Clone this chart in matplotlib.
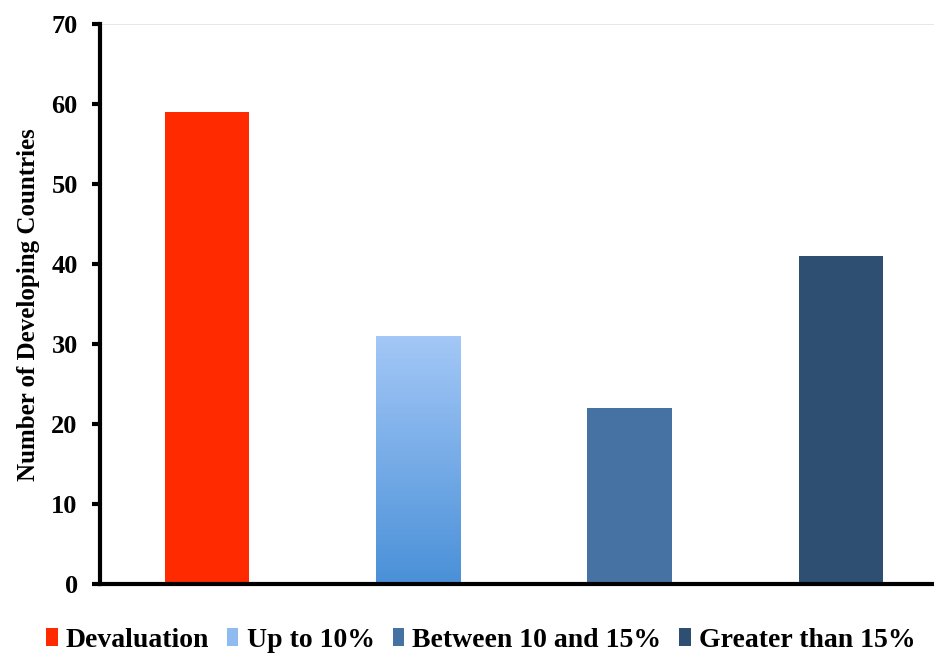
import matplotlib
matplotlib.use("Agg")
import matplotlib.pyplot as plt
import numpy as np
from matplotlib.patches import Patch
from matplotlib.colors import LinearSegmentedColormap

# data
categories = ['Devaluation', 'Up to 10%', 'Between 10 and 15%', 'Greater than 15%']
counts = [59, 31, 22, 41]
bar_colors = ['#ff2a00', '#7fb2ec', '#4672a3', '#2e4f72']
yticks = [0, 10, 20, 30, 40, 50, 60, 70]

plt.rcParams['font.family'] = ['Liberation Serif', 'DejaVu Serif']
plt.rcParams['font.weight'] = 'bold'

fig = plt.figure(figsize=(9.34, 6.55), dpi=100)
ax = fig.add_axes([0.107, 0.108, 0.893, 0.855])

x = np.arange(len(categories))
bars = ax.bar(x, counts, width=0.4, color=bar_colors, zorder=2)

# gradient fill for the "Up to 10%" bar
grad = LinearSegmentedColormap.from_list('lb', ['#4a90d8', '#a4c8f7'])
b = bars[1]
b.set_facecolor('none')
bx, by = b.get_x(), b.get_y()
bw, bh = b.get_width(), b.get_height()
img = ax.imshow(np.linspace(0, 1, 256).reshape(-1, 1), cmap=grad, origin='lower',
                extent=[bx, bx + bw, by, by + bh], aspect='auto', zorder=2)
img.set_clip_path(b)

ax.set_xlim(-0.507, 3.44)
ax.set_ylim(0, 70)
ax.set_yticks(yticks)
ax.set_xticks([])
ax.axhline(70, color='#e3e3e3', lw=1.2, zorder=1)

for s in ['top', 'right']:
    ax.spines[s].set_visible(False)
ax.spines['left'].set_linewidth(3)
ax.spines['bottom'].set_linewidth(3)
ax.tick_params(axis='y', direction='out', length=6, width=3, labelsize=19, pad=10)
for lab in ax.get_yticklabels():
    lab.set_fontweight('bold')

ax.set_ylabel('Number of Developing Countries', fontsize=18, fontweight='bold', labelpad=8)

handles = [Patch(facecolor=c, edgecolor='none') for c in ['#ff2a00', '#8fbcf0', '#4672a3', '#2e4f72']]
fig.legend(handles, categories, loc='lower center', ncol=4, frameon=False,
           bbox_to_anchor=(0.515, -0.035), handlelength=0.4, handleheight=0.6,
           handletextpad=0.3, columnspacing=0.65, prop={'weight': 'bold', 'size': 20})

fig.savefig('out.png', dpi=100)
